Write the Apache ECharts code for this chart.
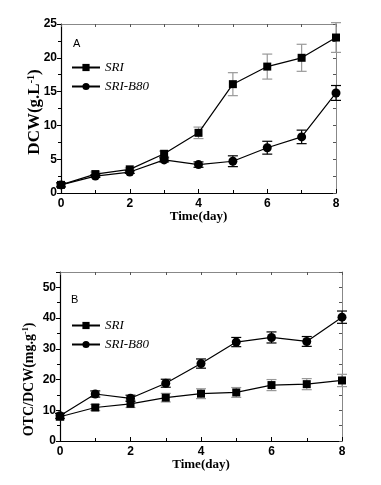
<!DOCTYPE html>
<html><head><meta charset="utf-8">
<script src="https://cdn.jsdelivr.net/npm/echarts@6/dist/echarts.min.js"></script>
<style>html,body{margin:0;padding:0;background:#fff}#c{width:381px;height:485px}</style>
</head><body><div id="c"></div>
<script>
var days = [0,1,2,3,4,5,6,7,8];
// Panel A: DCW (g.L-1)
var dcwSRI = [1.2,2.8,3.5,5.8,8.9,16.1,18.7,20.0,23.0];
var dcwSRIerr = [0.3,0.3,0.2,0.4,0.85,1.7,1.85,2.0,2.2];
var dcwB80 = [1.2,2.5,3.1,4.9,4.2,4.7,6.7,8.3,14.8];
var dcwB80err = [0.3,0.2,0.2,0.3,0.4,0.8,0.95,1.0,1.1];
// Panel B: OTC/DCW (mg.g-1)
var otcSRI = [7.9,10.9,12.1,14.1,15.4,15.8,18.2,18.5,19.7];
var otcSRIerr = [1.0,1.0,1.2,1.4,1.6,1.6,1.8,1.8,2.0];
var otcB80 = [8.2,15.3,13.9,18.8,25.2,32.2,33.7,32.4,40.3];
var otcB80err = [0.8,1.0,1.0,1.3,1.5,1.5,1.8,1.6,2.0];
var seriesNames = ['SRI','SRI-B80'];
var yTitleA = ['DCW(g.L','-1',')'];
var yTitleB = ['OTC/DCW(mg.g','-1',')'];
var xTitle = 'Time(day)';
var panelLabels = ['A','B'];

var chart = echarts.init(document.getElementById('c'));
function pts(vals){return days.map(function(d,i){return [d,vals[i]];});}
function errData(vals,errs){return days.map(function(d,i){return [d,vals[i]-errs[i],vals[i]+errs[i]];});}
function errSeries(xi,yi,vals,errs,color){
  return {type:'custom',xAxisIndex:xi,yAxisIndex:yi,data:errData(vals,errs),z:1,silent:true,
    renderItem:function(params,api){
      var lo=api.coord([api.value(0),api.value(1)]);
      var hi=api.coord([api.value(0),api.value(2)]);
      var w=5;
      var st={stroke:color,lineWidth:1.2};
      return {type:'group',children:[
        {type:'line',shape:{x1:lo[0],y1:lo[1],x2:hi[0],y2:hi[1]},style:st},
        {type:'line',shape:{x1:lo[0]-w,y1:lo[1],x2:lo[0]+w,y2:lo[1]},style:st},
        {type:'line',shape:{x1:hi[0]-w,y1:hi[1],x2:hi[0]+w,y2:hi[1]},style:st}
      ]};
    }};
}
var tickFont={fontFamily:'Liberation Sans',fontWeight:'bold',fontSize:12,color:'#000'};
function nameRich(fs){return {b:{fontFamily:'Liberation Serif',fontWeight:'bold',fontSize:fs,lineHeight:fs,color:'#000'},
  s:{fontFamily:'Liberation Serif',fontWeight:'bold',fontSize:Math.round(fs*0.6),lineHeight:fs,color:'#000',verticalAlign:'top'}};}
function xAxes(gi){
  return [
    {type:'value',gridIndex:gi,min:0,max:8,interval:2,position:'bottom',
     name:xTitle,nameLocation:'middle',nameGap:17,nameMoveOverlap:false,
     nameTextStyle:{fontFamily:'Liberation Serif',fontWeight:'bold',fontSize:13,color:'#000'},
     axisLine:{onZero:false,lineStyle:{color:'#000',width:1.2}},
     axisTick:{inside:true,length:4,lineStyle:{color:'#000'}},
     minorTick:{show:true,splitNumber:2,length:3,lineStyle:{color:'#000'}},
     axisLabel:Object.assign({margin:5},tickFont),splitLine:{show:false}},
    {type:'value',gridIndex:gi,min:0,max:8,interval:1,position:'top',
     axisLine:{onZero:false,lineStyle:{color:'#888',width:1}},
     axisTick:{inside:true,length:3,lineStyle:{color:'#555'}},
     axisLabel:{show:false},splitLine:{show:false}}
  ];
}
function yAxes(gi,max,interval,title,fs,gap,shift){
  return [
    {type:'value',gridIndex:gi,min:0,max:max,interval:interval,position:'left',
     name:'{b|'+title[0]+'}{s|'+title[1]+'}{b|'+title[2]+'}',nameLocation:'middle',nameGap:gap,nameRotate:90,
     nameMoveOverlap:false,
     nameTextStyle:{rich:nameRich(fs),padding:[0,shift,0,0]},
     axisLine:{onZero:false,lineStyle:{color:'#000',width:1.2}},
     axisTick:{inside:false,length:4,lineStyle:{color:'#000'}},
     minorTick:{show:true,splitNumber:2,length:3,lineStyle:{color:'#000'}},
     axisLabel:Object.assign({margin:4,showMaxLabel:max%interval===0},tickFont),splitLine:{show:false}},
    {type:'value',gridIndex:gi,min:0,max:max,interval:interval/2,position:'right',
     axisLine:{onZero:false,lineStyle:{color:'#888',width:1}},
     axisTick:{inside:true,length:3,lineStyle:{color:'#555'}},
     axisLabel:{show:false},splitLine:{show:false}}
  ];
}
function lineSeries(name,xi,yi,vals,sym,size){
  return {name:name,type:'line',xAxisIndex:xi,yAxisIndex:yi,data:pts(vals),symbol:sym,symbolSize:size,
    lineStyle:{color:'#000',width:1.2},itemStyle:{color:'#000'},z:3,animation:false};
}
var legendBase={orient:'vertical',itemWidth:28,itemHeight:9,itemGap:6,
  textStyle:{fontFamily:'Liberation Serif',fontStyle:'italic',fontSize:13,color:'#000'},
  data:[seriesNames[0],seriesNames[1]],selectedMode:false};
chart.setOption({
  animation:false,
  grid:[{left:61,right:45,top:24,height:169},{left:60,right:39,top:272,height:169}],
  xAxis:xAxes(0).concat(xAxes(1)),
  yAxis:yAxes(0,25,5,yTitleA,17,18,7).concat(yAxes(1,55,10,yTitleB,14,24,46)),
  legend:[Object.assign({left:66,top:56},legendBase),Object.assign({left:66,top:314},legendBase)],
  graphic:[
    {type:'text',left:73,top:38,style:{text:panelLabels[0],font:'11px "Liberation Sans"',fill:'#000'}},
    {type:'text',left:71,top:294,style:{text:panelLabels[1],font:'11px "Liberation Sans"',fill:'#000'}}
  ],
  series:[
    errSeries(0,0,dcwSRI,dcwSRIerr,'#999'),
    errSeries(0,0,dcwB80,dcwB80err,'#000'),
    lineSeries(seriesNames[0],0,0,dcwSRI,'rect',8),
    lineSeries(seriesNames[1],0,0,dcwB80,'circle',9),
    errSeries(2,2,otcSRI,otcSRIerr,'#999'),
    errSeries(2,2,otcB80,otcB80err,'#000'),
    lineSeries(seriesNames[0],2,2,otcSRI,'rect',8),
    lineSeries(seriesNames[1],2,2,otcB80,'circle',9)
  ]
});
</script></body></html>
